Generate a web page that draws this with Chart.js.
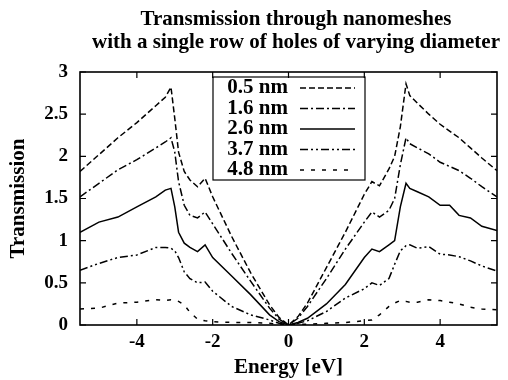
<!DOCTYPE html>
<html>
<head>
<meta charset="utf-8">
<script src="https://cdn.jsdelivr.net/npm/chart.js@4.4.0/dist/chart.umd.min.js"></script>
<style>
  html, body { margin: 0; padding: 0; background: #fff; }
</style>
</head>
<body>
<canvas id="transChart" width="508" height="380"></canvas>
<script>
// energy grid [eV] shared by all curves
const energy = [-5.5, -5.0, -4.5, -4.0, -3.5, -3.25, -3.1, -3.0, -2.9, -2.75, -2.6, -2.4, -2.2, -2.0, -1.5, -1.0, -0.5, -0.25, 0,
  0.25, 0.5, 1.0, 1.5, 2.0, 2.2, 2.4, 2.65, 2.8, 2.95, 3.1, 3.2, 3.4, 3.7, 4.0, 4.25, 4.5, 4.8, 5.1, 5.5];

const trans05 = [1.82, 2.02, 2.22, 2.40, 2.60, 2.70, 2.82, 2.45, 2.05, 1.82, 1.72, 1.64, 1.74, 1.52, 1.05, 0.62, 0.24, 0.09, 0.0,
  0.10, 0.26, 0.68, 1.10, 1.55, 1.70, 1.65, 1.85, 2.00, 2.35, 2.86, 2.72, 2.63, 2.50, 2.38, 2.30, 2.22, 2.10, 1.98, 1.83];
const trans16 = [1.52, 1.68, 1.84, 1.96, 2.10, 2.17, 2.22, 2.05, 1.70, 1.42, 1.30, 1.27, 1.34, 1.20, 0.85, 0.52, 0.20, 0.07, 0.0,
  0.08, 0.22, 0.55, 0.90, 1.22, 1.34, 1.28, 1.36, 1.50, 1.90, 2.22, 2.15, 2.10, 2.03, 1.93, 1.88, 1.83, 1.74, 1.64, 1.52];
const trans26 = [1.10, 1.22, 1.28, 1.40, 1.52, 1.60, 1.62, 1.40, 1.10, 0.97, 0.92, 0.87, 0.95, 0.80, 0.58, 0.36, 0.12, 0.04, 0.0,
  0.03, 0.08, 0.25, 0.48, 0.80, 0.90, 0.87, 0.95, 1.00, 1.40, 1.68, 1.62, 1.58, 1.52, 1.42, 1.42, 1.30, 1.27, 1.17, 1.12];
const trans37 = [0.65, 0.73, 0.80, 0.83, 0.92, 0.92, 0.91, 0.88, 0.80, 0.63, 0.55, 0.50, 0.51, 0.40, 0.22, 0.12, 0.06, 0.02, 0.0,
  0.02, 0.05, 0.16, 0.32, 0.43, 0.50, 0.47, 0.55, 0.72, 0.88, 0.94, 0.95, 0.91, 0.93, 0.84, 0.83, 0.81, 0.76, 0.70, 0.64];
const trans48 = [0.19, 0.20, 0.26, 0.27, 0.30, 0.29, 0.30, 0.29, 0.28, 0.24, 0.15, 0.07, 0.05, 0.04, 0.03, 0.03, 0.02, 0.01, 0.0,
  0.01, 0.01, 0.02, 0.03, 0.05, 0.06, 0.12, 0.22, 0.26, 0.29, 0.28, 0.27, 0.27, 0.30, 0.29, 0.27, 0.25, 0.21, 0.19, 0.18];

const seriesLabels = ["0.5 nm", "1.6 nm", "2.6 nm", "3.7 nm", "4.8 nm"];
const xTicks = [-4, -2, 0, 2, 4];
const yTicks = [0, 0.5, 1, 1.5, 2, 2.5, 3];
const titleLines = ["Transmission through nanomeshes", "with a single row of holes of varying diameter"];

const serif = "'Liberation Serif', 'Times New Roman', serif";
const dashes = [[6, 3], [8, 3, 2, 3], [], [8, 3, 2, 3, 2, 3], [4, 7]];
const allSeries = [trans05, trans16, trans26, trans37, trans48];

function toPoints(vals) {
  return energy.map((e, i) => ({ x: e, y: vals[i] }));
}

// title, frame with inward ticks and the boxed key, drawn like gnuplot
const gnuplotLook = {
  id: "gnuplotLook",
  afterDraw(chart) {
    const ctx = chart.ctx;
    const area = chart.chartArea;
    const xs = chart.scales.x;
    const ys = chart.scales.y;
    ctx.save();

    // title
    ctx.fillStyle = "#000";
    ctx.font = "bold 21px " + serif;
    ctx.textAlign = "center";
    ctx.textBaseline = "middle";
    titleLines.forEach((t, i) => ctx.fillText(t, 296, 20 + i * 23));

    // key
    const kx = 213, ky = 77, kw = 152, kh = 103;
    ctx.fillStyle = "#fff";
    ctx.fillRect(kx, ky, kw, kh);
    ctx.strokeStyle = "#000";
    ctx.lineWidth = 1.2;
    ctx.strokeRect(kx, ky, kw, kh);
    chart.data.datasets.forEach((ds, i) => {
      const yy = 88 + i * 20.5;
      ctx.fillStyle = "#000";
      ctx.textAlign = "right";
      ctx.fillText(ds.label, 288, yy);
      ctx.setLineDash(ds.borderDash || []);
      ctx.lineWidth = ds.borderWidth;
      ctx.beginPath();
      ctx.moveTo(300, yy);
      ctx.lineTo(355, yy);
      ctx.stroke();
    });
    ctx.setLineDash([]);

    // inward ticks on all four sides
    ctx.lineWidth = 1.2;
    ctx.beginPath();
    xTicks.forEach(v => {
      const px = xs.getPixelForValue(v);
      ctx.moveTo(px, area.bottom); ctx.lineTo(px, area.bottom - 6);
      ctx.moveTo(px, area.top); ctx.lineTo(px, area.top + 6);
    });
    yTicks.forEach(v => {
      const py = ys.getPixelForValue(v);
      ctx.moveTo(area.left, py); ctx.lineTo(area.left + 6, py);
      ctx.moveTo(area.right, py); ctx.lineTo(area.right - 6, py);
    });
    ctx.stroke();

    // frame
    ctx.lineWidth = 1.6;
    ctx.strokeRect(area.left, area.top, area.right - area.left, area.bottom - area.top);
    ctx.restore();
  },
};

const ctx = document.getElementById("transChart");
const chart = new Chart(ctx, {
  type: "line",
  data: {
    datasets: allSeries.map((vals, i) => ({
      label: seriesLabels[i],
      data: toPoints(vals),
      borderColor: "#000",
      backgroundColor: "#000",
      borderWidth: 1.5,
      borderDash: dashes[i],
      pointRadius: 0,
      tension: 0,
      fill: false,
    })),
  },
  options: {
    responsive: false,
    animation: false,
    devicePixelRatio: 1,
    layout: { padding: { left: 0, right: 11, top: 72, bottom: 0 } },
    plugins: {
      legend: { display: false },
      title: { display: false },
      tooltip: { enabled: false },
    },
    scales: {
      x: {
        type: "linear",
        min: -5.5,
        max: 5.5,
        afterBuildTicks: (s) => { s.ticks = xTicks.map(v => ({ value: v })); },
        afterFit: (s) => { s.height = 55; },
        grid: { display: false, drawTicks: false },
        border: { display: false },
        ticks: {
          color: "#000",
          padding: 6,
          font: { family: serif, size: 19, weight: "bold" },
          callback: (v) => String(v),
        },
        title: {
          display: true,
          text: "Energy [eV]",
          color: "#000",
          padding: { top: 0, bottom: 0 },
          font: { family: serif, size: 21, weight: "bold" },
        },
      },
      y: {
        type: "linear",
        min: 0,
        max: 3,
        afterBuildTicks: (s) => { s.ticks = yTicks.map(v => ({ value: v })); },
        afterFit: (s) => { s.width = 80; },
        grid: { display: false, drawTicks: false },
        border: { display: false },
        ticks: {
          color: "#000",
          padding: 12,
          font: { family: serif, size: 19, weight: "bold" },
          callback: (v) => String(v),
        },
        title: {
          display: true,
          text: "Transmission",
          color: "#000",
          padding: { top: 6, bottom: 0 },
          font: { family: serif, size: 21, weight: "bold" },
        },
      },
    },
  },
  plugins: [gnuplotLook],
});
</script>
</body>
</html>
